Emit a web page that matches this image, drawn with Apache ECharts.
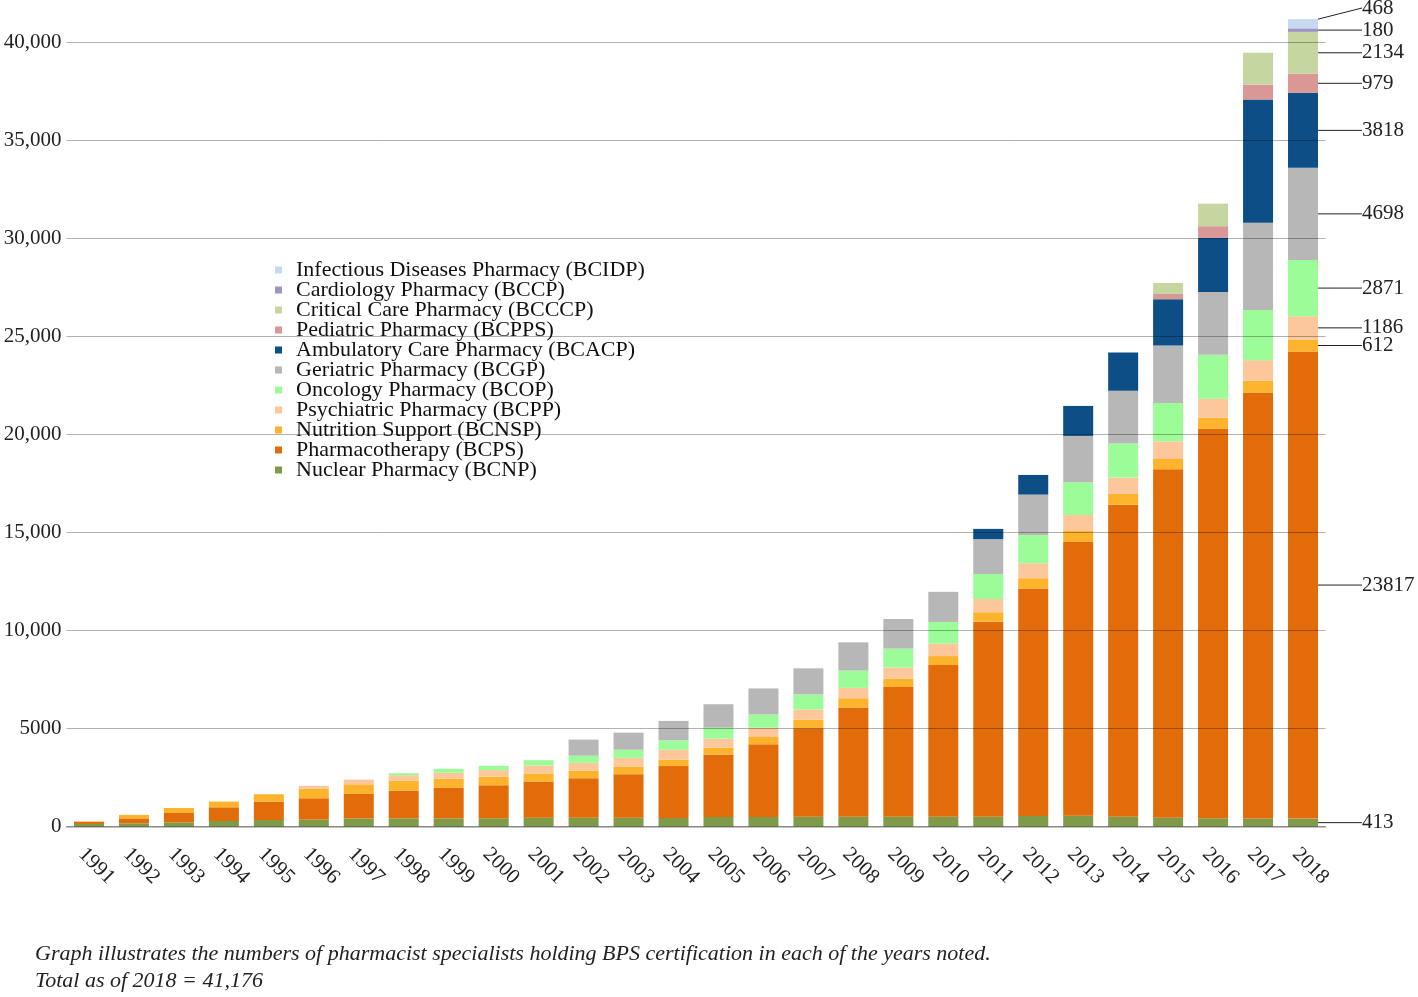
<!DOCTYPE html>
<html><head><meta charset="utf-8">
<script src="https://cdn.jsdelivr.net/npm/echarts@6/dist/echarts.min.js"></script>
<style>html,body{margin:0;padding:0;background:#fff}#c{width:1418px;height:997px}</style>
</head><body><div id="c"></div>
<script>
const years = ['1991','1992','1993','1994','1995','1996','1997','1998','1999','2000','2001','2002','2003','2004','2005','2006','2007','2008','2009','2010','2011','2012','2013','2014','2015','2016','2017','2018'];
const BCNP  = [140,170,220,290,340,360,420,425,425,430,460,460,460,445,495,495,510,510,510,510,510,545,560,510,460,430,420,413];
const BCPS  = [110,255,480,700,940,1090,1250,1415,1555,1685,1840,2015,2220,2645,3190,3705,4510,5570,6615,7730,9945,11595,13960,15910,17770,19860,21720,23817];
const BCNSP = [20,175,255,290,375,480,490,515,460,430,415,390,390,325,345,375,440,470,430,460,480,530,560,550,520,560,595,612];
const BCPP  = [0,0,0,0,0,155,240,270,310,340,405,395,445,510,460,475,515,530,560,640,675,765,815,830,900,965,1055,1186];
const BCOP  = [0,0,0,0,0,0,0,105,205,220,275,360,410,480,560,670,770,880,965,1100,1280,1440,1670,1745,1950,2255,2560,2871];
const BCGP  = [0,0,0,0,0,0,0,0,0,0,0,820,870,990,1195,1330,1330,1440,1510,1535,1770,2060,2360,2685,2930,3190,4445,4698];
const BCACP = [0,0,0,0,0,0,0,0,0,0,0,0,0,0,0,0,0,0,0,0,525,1000,1530,1950,2365,2765,6280,3818];
const BCPPS = [0,0,0,0,0,0,0,0,0,0,0,0,0,0,0,0,0,0,0,0,0,0,0,0,270,595,765,979];
const BCCCP = [0,0,0,0,0,0,0,0,0,0,0,0,0,0,0,0,0,0,0,0,0,0,0,0,560,1150,1625,2134];
const BCCP  = [0,0,0,0,0,0,0,0,0,0,0,0,0,0,0,0,0,0,0,0,0,0,0,0,0,0,0,180];
const BCIDP = [0,0,0,0,0,0,0,0,0,0,0,0,0,0,0,0,0,0,0,0,0,0,0,0,0,0,0,468];
const yTickLabels = ['0','5000','10,000','15,000','20,000','25,000','30,000','35,000','40,000'];
const seriesNames = ['Nuclear Pharmacy (BCNP)','Pharmacotherapy (BCPS)','Nutrition Support (BCNSP)','Psychiatric Pharmacy (BCPP)','Oncology Pharmacy (BCOP)','Geriatric Pharmacy (BCGP)','Ambulatory Care Pharmacy (BCACP)','Pediatric Pharmacy (BCPPS)','Critical Care Pharmacy (BCCCP)','Cardiology Pharmacy (BCCP)','Infectious Diseases Pharmacy (BCIDP)'];
const caption = 'Graph illustrates the numbers of pharmacist specialists holding BPS certification in each of the years noted.\nTotal as of 2018 = 41,176';

const seriesValues = [BCNP,BCPS,BCNSP,BCPP,BCOP,BCGP,BCACP,BCPPS,BCCCP,BCCP,BCIDP];
const colors = ['#7f9a48','#e36c0a','#fdb32b','#fcc89b','#9cfc98','#b7b7b7','#0c4e85','#d99796','#c5d6a0','#9e94c2','#c6d9f0'];
const FONT = 'Liberation Serif';
const last = years.length - 1;

const series = seriesValues.map((vals, si) => ({
  name: seriesNames[si],
  type: 'bar',
  stack: 'total',
  barWidth: 30,
  itemStyle: { color: colors[si] },
  emphasis: { disabled: true },
  data: vals.map((v, i) => i === last ? {
    value: v,
    label: {
      show: true, position: 'inside', formatter: '{c}',
      color: '#222', fontFamily: FONT, fontSize: 21, textBorderWidth: 0,
      padding: [0, 0, 0, 5]
    }
  } : v),
  labelLine: { show: true, lineStyle: { color: '#222', width: 1 } },
  labelLayout: function (p) {
    const out = { x: 1357, align: 'left', verticalAlign: 'middle' };
    if (si === seriesValues.length - 1) out.y = 8;
    return out;
  }
}));

const chart = echarts.init(document.getElementById('c'), null, { renderer: 'canvas' });
chart.setOption({
  animation: false,
  backgroundColor: '#fff',
  title: {
    text: caption, left: 35, top: 941, padding: 0,
    textStyle: { fontFamily: FONT, fontStyle: 'italic', fontWeight: 'normal', fontSize: 22, lineHeight: 27, color: '#222' }
  },
  legend: {
    orient: 'vertical', left: 275, top: 259, padding: 0,
    itemWidth: 7, itemHeight: 7, itemGap: -2, icon: 'rect',
    data: seriesNames.slice().reverse(),
    textStyle: { fontFamily: FONT, fontSize: 22, color: '#111', padding: [0, 0, 0, 9] }
  },
  grid: { left: 66.5, right: 92.5, top: 3, bottom: 170.3 },
  xAxis: {
    type: 'category', data: years,
    axisLine: { lineStyle: { color: '#b0b0b0', width: 1.5 } },
    axisTick: { show: false },
    axisLabel: { interval: 0, rotate: -45, margin: 17, verticalAlign: 'top', fontFamily: FONT, fontSize: 21, color: '#222' }
  },
  yAxis: {
    type: 'value', min: 0, max: 42000, interval: 5000, z: 5,
    axisLine: { show: false }, axisTick: { show: false },
    splitLine: { show: true, showMaxLine: false, lineStyle: { color: 'rgba(0,0,0,0.3)', width: 1 } },
    axisLabel: {
      margin: 5, fontFamily: FONT, fontSize: 21, color: '#222',
      formatter: v => (v % 5000 === 0 && yTickLabels[v / 5000] !== undefined) ? yTickLabels[v / 5000] : ''
    }
  },
  series: series
});
</script></body></html>
